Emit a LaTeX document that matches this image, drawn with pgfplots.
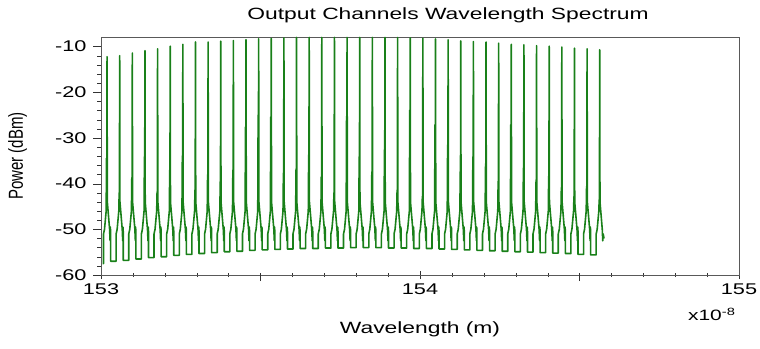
\documentclass[border=0pt]{standalone}
\usepackage{graphicx}
\usepackage{fontspec}
\setmainfont{Liberation Sans}[FakeStretch=1.4]
\newfontfamily\ylabfont{Liberation Sans}
\usepackage{pgfplots}
\pgfplotsset{compat=1.18}
\definecolor{spec}{RGB}{25,128,25}
\begin{document}
\begin{tikzpicture}
\begin{axis}[
  at={(0,0)}, anchor=south west,
  scale only axis, width=638pt, height=238pt,
  xmin=153, xmax=155, ymin=-60, ymax=-7.9,
  xtick={153,154,155}, ytick={-60,-50,-40,-30,-20,-10},
  minor x tick num=9, minor y tick num=4,
  extra x ticks={153.5,154.5}, extra x tick labels={},
  extra x tick style={tick align=outside, major tick length=6pt},
  tick pos=left,
  x tick style={black!80},
  y tick style={black!80},
  xtick align=center, ytick align=outside,
  major tick length=8pt, minor tick length=4pt,
  axis line style={black!65},
  clip mode=individual,
  /pgf/number format/assume math mode=true,
  /pgf/number format/1000 sep={},
  tick label style={font=\fontsize{15.5}{15.5}\selectfont},
  xticklabel style={yshift=-1pt},
  yticklabel style={xshift=-3pt},
  every axis y label/.style={at={(axis description cs:-0.1305,0.5)}, anchor=center, rotate=90},
  ylabel={\ylabfont\fontsize{15}{15}\selectfont\scalebox{1}[1.35]{Power (dBm)}},
  every axis x label/.style={at={(axis description cs:0.5,-0.23)}, anchor=center},
  xlabel={\fontsize{16.3}{16.3}\selectfont Wavelength (m)},
  every axis title/.style={at={(axis description cs:0.544,1.092)}, anchor=center},
  title={\fontsize{16.3}{16.3}\selectfont Output Channels Wavelength Spectrum},
]
\addplot[spec, line width=1.6pt, line join=round] coordinates {
(153.0048,-57.5) (153.0079,-57.5) (153.0079,-51) (153.0110,-50) (153.0162,-46) (153.0174,-34.4) (153.0180,-45) (153.0190,-12.2) (153.0198,-44) (153.0270,-50) (153.0285,-52.5) (153.0292,-49.5) (153.0301,-50.5) (153.0301,-57.0)
(153.0475,-57.0) (153.0475,-51) (153.0506,-50) (153.0558,-46) (153.0570,-42.0) (153.0576,-45) (153.0586,-12.0) (153.0594,-44) (153.0666,-50) (153.0681,-52.5) (153.0688,-49.5) (153.0697,-50.5) (153.0697,-56.8)
(153.0871,-56.8) (153.0871,-51) (153.0902,-50) (153.0954,-46) (153.0966,-38.7) (153.0972,-45) (153.0982,-11.4) (153.0990,-44) (153.1062,-50) (153.1077,-52.5) (153.1084,-49.5) (153.1093,-50.5) (153.1093,-56.5)
(153.1267,-56.5) (153.1267,-51) (153.1298,-50) (153.1350,-46) (153.1362,-34.1) (153.1368,-45) (153.1378,-10.9) (153.1386,-44) (153.1458,-50) (153.1473,-52.5) (153.1480,-49.5) (153.1489,-50.5) (153.1489,-56.2)
(153.1663,-56.2) (153.1663,-51) (153.1694,-50) (153.1746,-46) (153.1758,-41.8) (153.1764,-45) (153.1774,-10.5) (153.1782,-44) (153.1854,-50) (153.1869,-52.5) (153.1876,-49.5) (153.1885,-50.5) (153.1885,-56.0)
(153.2059,-56.0) (153.2059,-51) (153.2090,-50) (153.2142,-46) (153.2154,-37.0) (153.2160,-45) (153.2170,-9.9) (153.2178,-44) (153.2250,-50) (153.2265,-52.5) (153.2272,-49.5) (153.2281,-50.5) (153.2281,-55.7)
(153.2455,-55.7) (153.2455,-51) (153.2486,-50) (153.2538,-46) (153.2550,-33.9) (153.2556,-45) (153.2566,-9.5) (153.2574,-44) (153.2646,-50) (153.2661,-52.5) (153.2668,-49.5) (153.2677,-50.5) (153.2677,-55.5)
(153.2851,-55.5) (153.2851,-51) (153.2882,-50) (153.2934,-46) (153.2946,-41.4) (153.2952,-45) (153.2962,-9.0) (153.2970,-44) (153.3042,-50) (153.3057,-52.5) (153.3064,-49.5) (153.3073,-50.5) (153.3073,-55.3)
(153.3247,-55.3) (153.3247,-51) (153.3278,-50) (153.3330,-46) (153.3342,-38.0) (153.3348,-45) (153.3358,-9.0) (153.3366,-44) (153.3438,-50) (153.3453,-52.5) (153.3460,-49.5) (153.3469,-50.5) (153.3469,-55.1)
(153.3643,-55.1) (153.3643,-51) (153.3674,-50) (153.3726,-46) (153.3738,-39.6) (153.3744,-45) (153.3754,-8.8) (153.3762,-44) (153.3834,-50) (153.3849,-52.5) (153.3856,-49.5) (153.3865,-50.5) (153.3865,-54.9)
(153.4039,-54.9) (153.4039,-51) (153.4070,-50) (153.4122,-46) (153.4134,-37.0) (153.4140,-45) (153.4150,-8.7) (153.4158,-44) (153.4230,-50) (153.4245,-52.5) (153.4252,-49.5) (153.4261,-50.5) (153.4261,-54.8)
(153.4435,-54.8) (153.4435,-51) (153.4466,-50) (153.4518,-46) (153.4530,-27.6) (153.4536,-45) (153.4546,-8.5) (153.4554,-44) (153.4626,-50) (153.4641,-52.5) (153.4648,-49.5) (153.4657,-50.5) (153.4657,-54.6)
(153.4831,-54.6) (153.4831,-51) (153.4862,-50) (153.4914,-46) (153.4926,-25.0) (153.4932,-45) (153.4942,-8.3) (153.4950,-44) (153.5022,-50) (153.5037,-52.5) (153.5044,-49.5) (153.5053,-50.5) (153.5053,-54.5)
(153.5227,-54.5) (153.5227,-51) (153.5258,-50) (153.5310,-46) (153.5322,-25.4) (153.5328,-45) (153.5338,-8.2) (153.5346,-44) (153.5418,-50) (153.5433,-52.5) (153.5440,-49.5) (153.5449,-50.5) (153.5449,-54.4)
(153.5623,-54.4) (153.5623,-51) (153.5654,-50) (153.5706,-46) (153.5718,-37.7) (153.5724,-45) (153.5734,-8.1) (153.5742,-44) (153.5814,-50) (153.5829,-52.5) (153.5836,-49.5) (153.5845,-50.5) (153.5845,-54.3)
(153.6019,-54.3) (153.6019,-51) (153.6050,-50) (153.6102,-46) (153.6114,-37.0) (153.6120,-45) (153.6130,-8.0) (153.6138,-44) (153.6210,-50) (153.6225,-52.5) (153.6232,-49.5) (153.6241,-50.5) (153.6241,-54.2)
(153.6415,-54.2) (153.6415,-51) (153.6446,-50) (153.6498,-46) (153.6510,-33.7) (153.6516,-45) (153.6526,-8.0) (153.6534,-44) (153.6606,-50) (153.6621,-52.5) (153.6628,-49.5) (153.6637,-50.5) (153.6637,-54.2)
(153.6811,-54.2) (153.6811,-51) (153.6842,-50) (153.6894,-46) (153.6906,-38.5) (153.6912,-45) (153.6922,-8.0) (153.6930,-44) (153.7002,-50) (153.7017,-52.5) (153.7024,-49.5) (153.7033,-50.5) (153.7033,-54.1)
(153.7207,-54.1) (153.7207,-51) (153.7238,-50) (153.7290,-46) (153.7302,-42.0) (153.7308,-45) (153.7318,-8.0) (153.7326,-44) (153.7398,-50) (153.7413,-52.5) (153.7420,-49.5) (153.7429,-50.5) (153.7429,-54.1)
(153.7603,-54.1) (153.7603,-51) (153.7634,-50) (153.7686,-46) (153.7698,-25.3) (153.7704,-45) (153.7714,-8.0) (153.7722,-44) (153.7794,-50) (153.7809,-52.5) (153.7816,-49.5) (153.7825,-50.5) (153.7825,-54.0)
(153.7999,-54.0) (153.7999,-51) (153.8030,-50) (153.8082,-46) (153.8094,-34.1) (153.8100,-45) (153.8110,-8.0) (153.8118,-44) (153.8190,-50) (153.8205,-52.5) (153.8212,-49.5) (153.8221,-50.5) (153.8221,-54.0)
(153.8395,-54.0) (153.8395,-51) (153.8426,-50) (153.8478,-46) (153.8490,-37.4) (153.8496,-45) (153.8506,-8.0) (153.8514,-44) (153.8586,-50) (153.8601,-52.5) (153.8608,-49.5) (153.8617,-50.5) (153.8617,-54.0)
(153.8791,-54.0) (153.8791,-51) (153.8822,-50) (153.8874,-46) (153.8886,-32.6) (153.8892,-45) (153.8902,-8.0) (153.8910,-44) (153.8982,-50) (153.8997,-52.5) (153.9004,-49.5) (153.9013,-50.5) (153.9013,-54.1)
(153.9187,-54.1) (153.9187,-51) (153.9218,-50) (153.9270,-46) (153.9282,-41.4) (153.9288,-45) (153.9298,-8.0) (153.9306,-44) (153.9378,-50) (153.9393,-52.5) (153.9400,-49.5) (153.9409,-50.5) (153.9409,-54.1)
(153.9583,-54.1) (153.9583,-51) (153.9614,-50) (153.9666,-46) (153.9678,-23.9) (153.9684,-45) (153.9694,-8.1) (153.9702,-44) (153.9774,-50) (153.9789,-52.5) (153.9796,-49.5) (153.9805,-50.5) (153.9805,-54.2)
(153.9979,-54.2) (153.9979,-51) (154.0010,-50) (154.0062,-46) (154.0074,-42.8) (154.0080,-45) (154.0090,-8.2) (154.0098,-44) (154.0170,-50) (154.0185,-52.5) (154.0192,-49.5) (154.0201,-50.5) (154.0201,-54.2)
(154.0375,-54.2) (154.0375,-51) (154.0406,-50) (154.0458,-46) (154.0470,-27.1) (154.0476,-45) (154.0486,-8.3) (154.0494,-44) (154.0566,-50) (154.0581,-52.5) (154.0588,-49.5) (154.0597,-50.5) (154.0597,-54.3)
(154.0771,-54.3) (154.0771,-51) (154.0802,-50) (154.0854,-46) (154.0866,-31.5) (154.0872,-45) (154.0882,-8.5) (154.0890,-44) (154.0962,-50) (154.0977,-52.5) (154.0984,-49.5) (154.0993,-50.5) (154.0993,-54.4)
(154.1167,-54.4) (154.1167,-51) (154.1198,-50) (154.1250,-46) (154.1262,-37.4) (154.1268,-45) (154.1278,-8.75) (154.1286,-44) (154.1358,-50) (154.1373,-52.5) (154.1380,-49.5) (154.1389,-50.5) (154.1389,-54.5)
(154.1563,-54.5) (154.1563,-51) (154.1594,-50) (154.1646,-46) (154.1658,-34.1) (154.1664,-45) (154.1674,-8.9) (154.1682,-44) (154.1754,-50) (154.1769,-52.5) (154.1776,-49.5) (154.1785,-50.5) (154.1785,-54.6)
(154.1959,-54.6) (154.1959,-51) (154.1990,-50) (154.2042,-46) (154.2054,-36.3) (154.2060,-45) (154.2070,-9.0) (154.2078,-44) (154.2150,-50) (154.2165,-52.5) (154.2172,-49.5) (154.2181,-50.5) (154.2181,-54.7)
(154.2355,-54.7) (154.2355,-51) (154.2386,-50) (154.2438,-46) (154.2450,-39.5) (154.2456,-45) (154.2466,-9.25) (154.2474,-44) (154.2546,-50) (154.2561,-52.5) (154.2568,-49.5) (154.2577,-50.5) (154.2577,-54.8)
(154.2751,-54.8) (154.2751,-51) (154.2782,-50) (154.2834,-46) (154.2846,-27.1) (154.2852,-45) (154.2862,-9.5) (154.2870,-44) (154.2942,-50) (154.2957,-52.5) (154.2964,-49.5) (154.2973,-50.5) (154.2973,-54.9)
(154.3147,-54.9) (154.3147,-51) (154.3178,-50) (154.3230,-46) (154.3242,-36.6) (154.3248,-45) (154.3258,-9.6) (154.3266,-44) (154.3338,-50) (154.3353,-52.5) (154.3360,-49.5) (154.3369,-50.5) (154.3369,-55.0)
(154.3543,-55.0) (154.3543,-51) (154.3574,-50) (154.3626,-46) (154.3638,-39.5) (154.3644,-45) (154.3654,-9.8) (154.3662,-44) (154.3734,-50) (154.3749,-52.5) (154.3756,-49.5) (154.3765,-50.5) (154.3765,-55.1)
(154.3939,-55.1) (154.3939,-51) (154.3970,-50) (154.4022,-46) (154.4034,-38.4) (154.4040,-45) (154.4050,-9.9) (154.4058,-44) (154.4130,-50) (154.4145,-52.5) (154.4152,-49.5) (154.4161,-50.5) (154.4161,-55.2)
(154.4335,-55.2) (154.4335,-51) (154.4366,-50) (154.4418,-46) (154.4430,-41.4) (154.4436,-45) (154.4446,-10.1) (154.4454,-44) (154.4526,-50) (154.4541,-52.5) (154.4548,-49.5) (154.4557,-50.5) (154.4557,-55.3)
(154.4731,-55.3) (154.4731,-51) (154.4762,-50) (154.4814,-46) (154.4826,-42.8) (154.4832,-45) (154.4842,-10.35) (154.4850,-44) (154.4922,-50) (154.4937,-52.5) (154.4944,-49.5) (154.4953,-50.5) (154.4953,-55.5)
(154.5127,-55.5) (154.5127,-51) (154.5158,-50) (154.5210,-46) (154.5222,-40.6) (154.5228,-45) (154.5238,-10.5) (154.5246,-44) (154.5318,-50) (154.5333,-52.5) (154.5340,-49.5) (154.5349,-50.5) (154.5349,-55.6)
(154.5523,-55.6) (154.5523,-51) (154.5554,-50) (154.5606,-46) (154.5618,-43.5) (154.5624,-45) (154.5634,-10.7) (154.5642,-44) (154.5714,-50) (154.5729,-52.5) (154.5740,-51) (154.5770,-52)
};
\node[anchor=east, font=\fontsize{15}{15}\selectfont] at (axis description cs:1,-0.165) {x10\textsuperscript{-8}};
\end{axis}
\pgfresetboundingbox
\path (-101pt,-73pt) rectangle (659pt,275pt);
\end{tikzpicture}
\end{document}
